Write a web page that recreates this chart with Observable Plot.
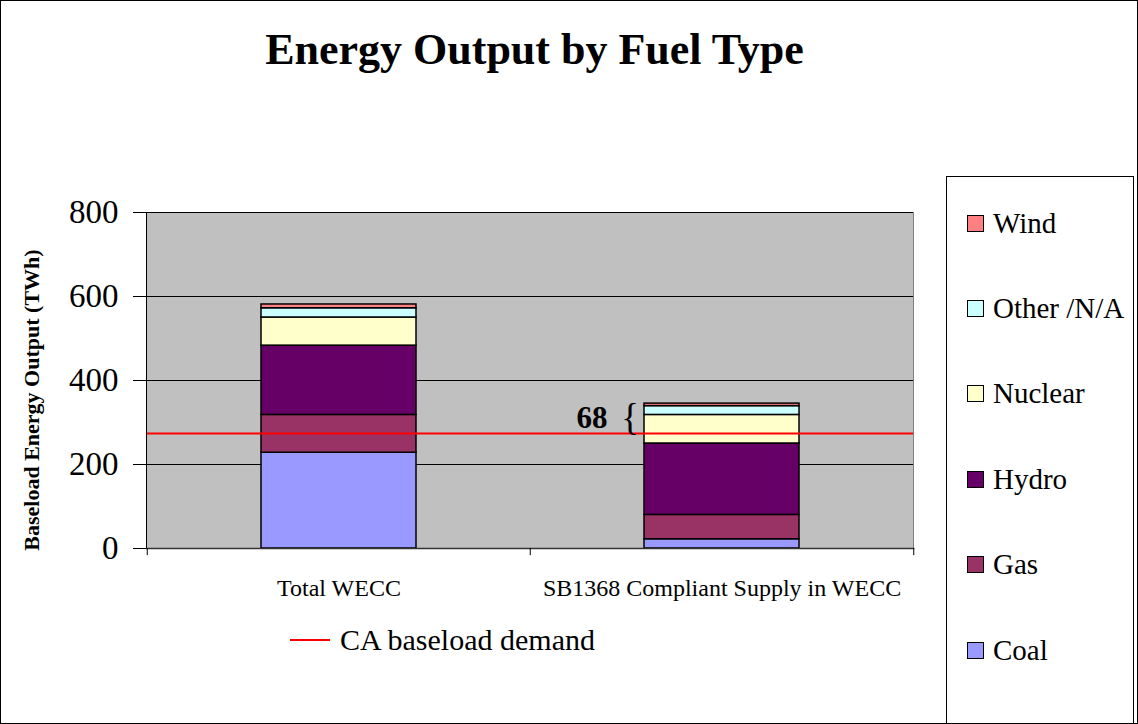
<!DOCTYPE html>
<html><head><meta charset="utf-8">
<script src="https://cdn.jsdelivr.net/npm/d3@7"></script>
<script src="https://cdn.jsdelivr.net/npm/@observablehq/plot@0.6"></script>
<style>
html,body{margin:0;padding:0;background:#fff;}
#wrap{position:relative;width:1138px;height:724px;overflow:hidden;font-family:"Liberation Serif","Times New Roman",serif;color:#000;background:#fff;}
#wrap svg{position:absolute;left:0;top:0;}
.border{position:absolute;left:0;top:0;width:1138px;height:724px;box-sizing:border-box;border:1px solid #000;pointer-events:none;}
.title{position:absolute;left:0;width:1069px;top:28px;text-align:center;font-weight:bold;font-size:44px;line-height:44px;white-space:nowrap;}
.ylab{position:absolute;left:32px;top:400px;transform:translate(-50%,-50%) rotate(-90deg);font-weight:bold;font-size:22px;white-space:nowrap;line-height:1;}
.legend{position:absolute;left:946px;top:176px;width:188px;height:560px;box-sizing:border-box;border:1px solid #000;background:#fff;}
.item{position:absolute;left:20px;height:30px;display:flex;align-items:center;font-size:29px;white-space:nowrap;transform:translateY(-50%);}
.sw{display:inline-block;width:15px;height:15px;border:1.5px solid #000;margin-right:9px;}
.demand{position:absolute;left:290px;top:625px;height:30px;display:flex;align-items:center;font-size:30px;white-space:nowrap;}
.demand .ln{display:inline-block;width:40px;height:2px;background:#FF0000;margin-right:10px;}
</style></head><body><div id="wrap"></div>
<script>
// ---- data ----
const categories = ["Total WECC", "SB1368 Compliant Supply in WECC"];
const fuels = ["Coal", "Gas", "Hydro", "Nuclear", "Other /N/A", "Wind"];
const fuelColors = ["#9999FF", "#993366", "#660066", "#FFFFCC", "#CCFFFF", "#FF8080"];
const totalWECC = [228, 90, 165, 67, 22, 9];
const sb1368Supply = [22, 58, 170, 68, 21, 6];
const caBaseloadDemand = 274;
const yTicks = [0, 200, 400, 600, 800];
const gapLabel = "68";
const titleText = "Energy Output by Fuel Type";
const yLabel = "Baseload Energy Output (TWh)";
const demandLabel = "CA baseload demand";

// ---- build table ----
const seriesByCategory = [totalWECC, sb1368Supply];
const data = [];
categories.forEach((c, i) => fuels.forEach((f, j) => data.push({category: c, fuel: f, value: seriesByCategory[i][j]})));
const total2 = d3.sum(sb1368Supply);
const annot = [{category: categories[1], y: (caBaseloadDemand + total2) / 2, label: gapLabel}];

const W = 1138, H = 724;
const ml = 146, mr = 225, mt = 212, mb = 176;
const step = (W - ml - mr) / categories.length;

const chart = Plot.plot({
  width: W, height: H,
  marginLeft: ml, marginRight: mr, marginTop: mt, marginBottom: mb,
  style: {fontFamily: "'Liberation Serif', 'Times New Roman', serif", background: "transparent", color: "#000", overflow: "visible"},
  x: {domain: categories, paddingInner: 0.596, paddingOuter: 0.298, axis: null},
  y: {domain: [0, 800], axis: null},
  color: {domain: fuels, range: fuelColors},
  marks: [
    Plot.frame({fill: "#C0C0C0", stroke: "#808080"}),
    Plot.ruleY(yTicks.filter(d => d > 0), {stroke: "#000", strokeWidth: 1}),
    Plot.barY(data, {x: "category", y: "value", fill: "fuel", order: fuels, stroke: "#000", strokeWidth: 1.5}),
    Plot.ruleY([caBaseloadDemand], {stroke: "#FF0000", strokeWidth: 2}),
    Plot.frame({anchor: "left", stroke: "#000"}),
    Plot.frame({anchor: "bottom", stroke: "#333", strokeWidth: 1.5}),
    // category boundary ticks on the x axis
    Plot.ruleX([categories[0], categories[1]], {x: d => d, dx: -step / 2, y1: 0, y2: -17, stroke: "#000"}),
    Plot.ruleX([categories[1]], {x: d => d, dx: step / 2, y1: 0, y2: -17, stroke: "#000"}),
    Plot.axisY({ticks: yTicks, tickSize: 13, tickPadding: 15, fontSize: 33, tickFormat: d => d, label: null, stroke: "#000"}),
    Plot.axisX({tickSize: 0, tickPadding: 30, fontSize: 24, label: null}),
    Plot.text(annot, {x: "category", y: "y", text: "label", dx: -130, fontSize: 31, fontWeight: "bold"}),
    Plot.text(annot, {x: "category", y: "y", text: () => "{", dx: -92, fontSize: 37})
  ]
});

const wrap = document.getElementById("wrap");
wrap.appendChild(chart);

const t = document.createElement("div"); t.className = "title"; t.textContent = titleText; wrap.appendChild(t);
const yl = document.createElement("div"); yl.className = "ylab"; yl.textContent = yLabel; wrap.appendChild(yl);

const lg = document.createElement("div"); lg.className = "legend"; wrap.appendChild(lg);
const legendOrder = fuels.slice().reverse();
legendOrder.forEach((f, i) => {
  const it = document.createElement("div"); it.className = "item";
  it.style.top = (222 - 176 + i * 85.4) + "px";
  const sw = document.createElement("span"); sw.className = "sw"; sw.style.background = fuelColors[fuels.indexOf(f)];
  it.appendChild(sw); it.appendChild(document.createTextNode(f));
  lg.appendChild(it);
});

const dm = document.createElement("div"); dm.className = "demand";
const ln = document.createElement("span"); ln.className = "ln"; dm.appendChild(ln);
dm.appendChild(document.createTextNode(demandLabel)); wrap.appendChild(dm);

const b = document.createElement("div"); b.className = "border"; wrap.appendChild(b);
</script>
</body></html>
